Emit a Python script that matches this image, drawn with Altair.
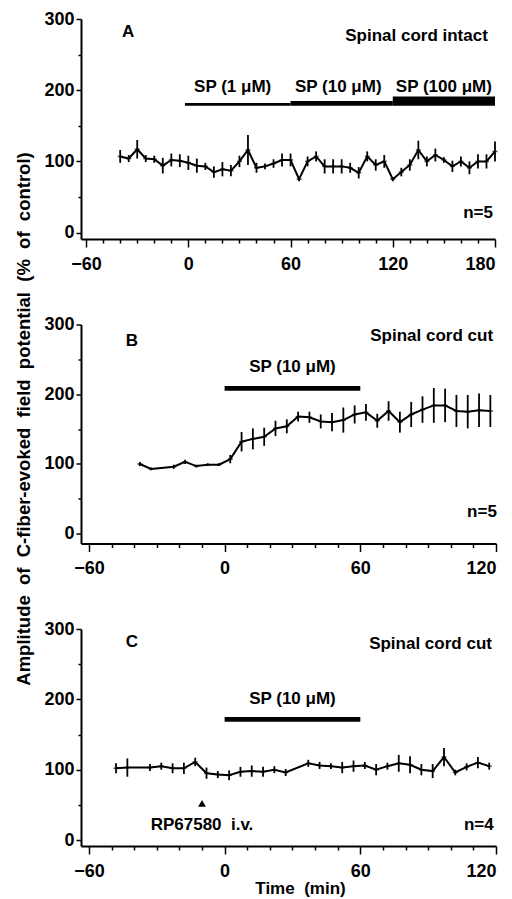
import altair as alt
import pandas as pd

FONT = "Liberation Sans"

# ---------------- Panel A (spinal cord intact) ----------------
a_time = [-40, -35, -30, -25, -20, -15, -10, -5, 0, 5, 10, 15, 20, 25, 30, 35, 40, 45, 50, 55,
          60, 65, 70, 75, 80, 85, 90, 95, 100, 105, 110, 115, 120, 125, 130, 135, 140, 145, 150,
          155, 160, 165, 170, 175, 180]
a_val = [107, 104, 117, 104, 103, 94, 102, 101, 98, 94, 93, 85, 89, 87, 100, 116, 91, 93, 97, 102,
         102, 75, 100, 107, 93, 93, 93, 91, 84, 107, 95, 100, 75, 85, 95, 116, 100, 109, 102,
         93, 100, 91, 100, 100, 114]
a_err = [9, 5, 13, 5, 5, 11, 9, 9, 10, 10, 5, 8, 10, 8, 8, 21, 7, 4, 6, 9,
         9, 3, 7, 7, 10, 10, 10, 7, 8, 7, 8, 9, 3, 6, 8, 13, 7, 9, 4,
         8, 7, 9, 10, 10, 14]
a_bar_start = [-2, 60, 120]
a_bar_end = [60, 120, 180]
a_bar_bottom = [178, 178, 178]
a_bar_top = [182, 185, 191]
a_sp_labels = ["SP (1 \u03bcM)", "SP (10 \u03bcM)", "SP (100 \u03bcM)"]
a_sp_x = [26, 88, 150]
a_sp_y = [205, 205, 205]

# ---------------- Panel B (spinal cord cut) ----------------
b_time = [-37.5, -32.5, -22.5, -17.5, -12.5, -7.5, -2.5, 2.5, 7.5, 12.5, 17.5, 22.5, 27.5, 32.5,
          37.5, 42.5, 47.5, 52.5, 57.5, 62.5, 67.5, 72.5, 77.5, 82.5, 87.5, 92.5, 97.5, 102.5,
          107.5, 112.5, 117.5]
b_val = [100, 93, 96, 103, 97, 99, 99, 107, 132, 136, 139, 151, 154, 168,
         167, 161, 160, 163, 171, 174, 162, 176, 160, 171, 178, 184, 184, 176,
         175, 177, 176]
b_err = [3, 2, 3, 3, 2, 2, 2, 6, 14, 15, 13, 11, 10, 7,
         8, 10, 13, 18, 13, 12, 10, 14, 15, 18, 19, 25, 24, 23,
         24, 24, 23]

# ---------------- Panel C (spinal cord cut + RP67580) ----------------
c_time = [-48, -43, -33, -28, -23, -18, -13, -8, -3, 2, 7, 12, 17, 22, 27, 37, 42, 47, 52, 57,
          62, 67, 72, 77, 82, 87, 92, 97, 102, 107, 112, 117]
c_val = [102, 103, 103, 105, 102, 102, 111, 95, 93, 92, 97, 98, 97, 100, 96, 109, 106, 105, 103, 105,
         106, 100, 105, 109, 107, 100, 98, 118, 96, 104, 110, 105]
c_err = [7, 13, 5, 5, 7, 8, 6, 8, 5, 7, 7, 8, 7, 5, 5, 5, 5, 4, 8, 8,
         5, 8, 5, 12, 12, 8, 10, 13, 4, 5, 8, 5]

x_ticks_a = [-60, -50, -40, -30, -20, -10, 0, 10, 20, 30, 40, 50, 60, 70, 80, 90, 100, 110, 120,
             130, 140, 150, 160, 170, 180]
x_ticks_bc = [-60, -50, -40, -30, -20, -10, 0, 10, 20, 30, 40, 50, 60, 70, 80, 90, 100, 110, 120]
y_ticks = [0, 50, 100, 150, 200, 250, 300]

Y_TITLE = ("Amplitude\u00a0 of\u00a0 C-fiber-evoked\u00a0 field\u00a0 potential\u00a0 "
           "(%\u00a0 of\u00a0 control)")


def panel(t, v, e, xdom, xticks, ydom, w, h, bars, center_txt, right_txt,
          xtitle=False, ytitle=False, tri=None):
    df = pd.DataFrame({"t": t, "v": v,
                       "lo": [a - b for a, b in zip(v, e)],
                       "hi": [a + b for a, b in zip(v, e)]})
    xs = alt.Scale(domain=xdom, nice=False, zero=False)
    ys = alt.Scale(domain=ydom, nice=False, zero=False)
    xaxis_kw = dict(values=xticks,
                    labelExpr="datum.value % 60 === 0 ? datum.label : ''",
                    tickSize={"condition": {"test": "datum.value % 60 === 0", "value": 8}, "value": 4},
                    labelPadding=8, grid=False)
    if xtitle:
        xaxis_kw.update(title="Time\u00a0 (min)", titlePadding=0, titleX=219)
    else:
        xaxis_kw.update(title=None)
    yaxis_kw = dict(values=y_ticks,
                    labelExpr="datum.value % 100 === 0 ? datum.label : ''",
                    tickSize={"condition": {"test": "datum.value % 100 === 0", "value": 5}, "value": 3},
                    labelPadding=2, grid=False)
    if ytitle:
        yaxis_kw.update(title=Y_TITLE, titleX=-58, titleY=94, titleBaseline="middle",
                        titleAlign="center", titleAngle=270, titleFontSize=18.5)
    else:
        yaxis_kw.update(title=None)
    xaxis = alt.Axis(**xaxis_kw)
    yaxis = alt.Axis(**yaxis_kw)

    def X(f):
        return alt.X(f + ":Q", scale=xs, axis=xaxis)

    def Y(f):
        return alt.Y(f + ":Q", scale=ys, axis=yaxis)

    base = alt.Chart(df)
    line = base.mark_line(color="black", strokeWidth=2).encode(x=X("t"), y=Y("v"))
    errs = base.mark_rule(color="black", strokeWidth=1.8).encode(x=X("t"), y=Y("lo"), y2="hi:Q")
    pts = base.mark_tick(color="black", thickness=1.5, size=5, orient="horizontal").encode(x=X("t"), y=Y("v"))

    bdf = pd.DataFrame(bars)
    bar = alt.Chart(bdf).mark_rect(color="black").encode(x=X("x0"), x2="x1:Q", y=Y("y0"), y2="y1:Q")

    cdf = pd.DataFrame(center_txt)
    ctext = alt.Chart(cdf).mark_text(align="center", baseline="middle", font=FONT, fontSize=17,
                                     fontWeight="bold", color="black").encode(
        x=X("t"), y=Y("v"), text="label:N")
    rdf = pd.DataFrame(right_txt)
    rtext = alt.Chart(rdf).mark_text(align="right", baseline="middle", font=FONT, fontSize=17,
                                     fontWeight="bold", color="black").encode(
        x=X("t"), y=Y("v"), text="label:N")
    layers = [line, errs, pts, bar, ctext, rtext]
    if tri is not None:
        tdf = pd.DataFrame(tri)
        layers.append(alt.Chart(tdf).mark_point(shape="triangle-up", filled=True, color="black",
                                                size=60, opacity=1).encode(x=X("t"), y=Y("v")))
    return alt.layer(*layers).properties(width=w, height=h)


pA = panel(a_time, a_val, a_err, [-63, 180], x_ticks_a, [-9, 300], 414, 220,
           {"x0": a_bar_start, "x1": a_bar_end, "y0": a_bar_bottom, "y1": a_bar_top},
           {"t": [-35.4] + a_sp_x, "v": [282] + a_sp_y, "label": ["A"] + a_sp_labels},
           {"t": [175.8, 178.8], "v": [276, 28], "label": ["Spinal cord intact", "n=5"]})

pB = panel(b_time, b_val, b_err, [-63.5, 120], x_ticks_bc, [-14, 300], 415, 219,
           {"x0": [0], "x1": [60], "y0": [205], "y1": [212]},
           {"t": [-41, 30], "v": [277, 239], "label": ["B", "SP (10 \u03bcM)"]},
           {"t": [118.7, 120.4], "v": [283, 31], "label": ["Spinal cord cut", "n=5"]},
           ytitle=True)

pC = panel(c_time, c_val, c_err, [-63.5, 120], x_ticks_bc, [-8.5, 300], 415, 217,
           {"x0": [0], "x1": [60], "y0": [168], "y1": [175]},
           {"t": [-41, 30, -10], "v": [282, 200, 21],
            "label": ["C", "SP (10 \u03bcM)", "RP67580\u00a0 i.v."]},
           {"t": [118.2, 119], "v": [279, 21], "label": ["Spinal cord cut", "n=4"]},
           xtitle=True, tri={"t": [-10], "v": [52]})

chart = alt.vconcat(pA, pB, pC, spacing=85.5, bounds="flush").properties(
    padding={"left": 5, "top": 2, "right": 2, "bottom": 2},
    background="white"
).configure_view(stroke=None).configure_axis(
    domainColor="black", domainWidth=2, tickColor="black", tickWidth=1.5,
    labelColor="black", labelFont=FONT, labelFontSize=18, labelFontWeight="bold",
    titleColor="black", titleFont=FONT, titleFontSize=17, titleFontWeight="bold",
    labelOverlap=False
)

chart.save("out.html", embed_options={"renderer": "svg", "actions": False})
